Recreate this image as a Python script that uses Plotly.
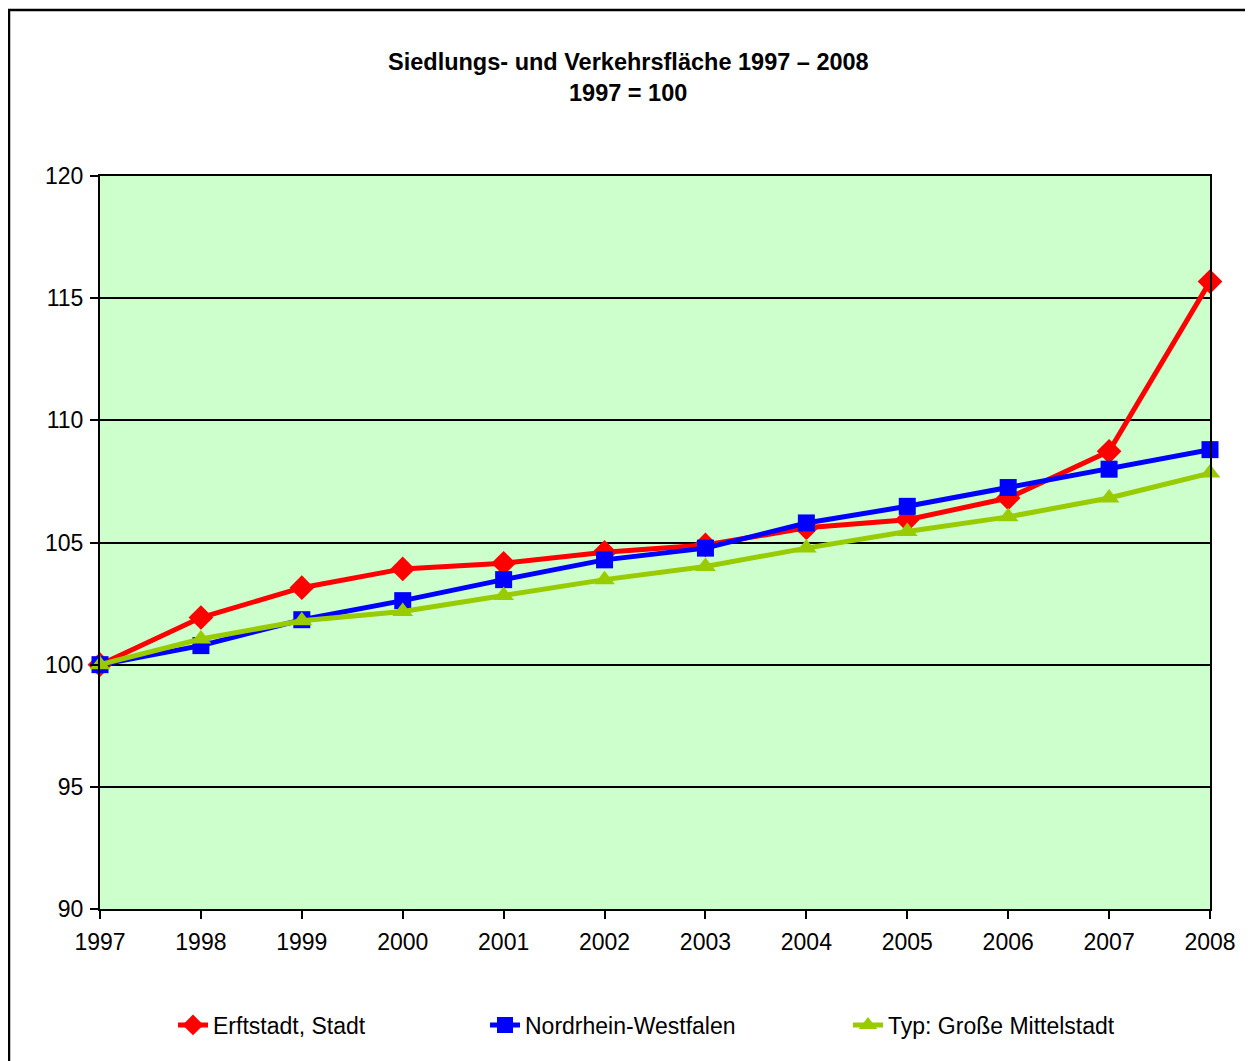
import plotly.graph_objects as go

years = [1997, 1998, 1999, 2000, 2001, 2002, 2003, 2004, 2005, 2006, 2007, 2008]
erftstadt = [100, 101.93, 103.15, 103.92, 104.15, 104.6, 104.9, 105.6, 105.93, 106.82, 108.73, 115.68]
nrw = [100, 100.78, 101.84, 102.62, 103.48, 104.29, 104.77, 105.8, 106.48, 107.25, 108.0, 108.8]
typ = [100, 101.05, 101.8, 102.18, 102.83, 103.48, 104.02, 104.77, 105.45, 106.05, 106.82, 107.84]
y_ticks = [90, 95, 100, 105, 110, 115, 120]

names = ["Erftstadt, Stadt", "Nordrhein-Westfalen", "Typ: Große Mittelstadt"]
colors = ["#FF0000", "#0000FF", "#99CC00"]
symbols = ["diamond", "square", "triangle-up"]
msizes = [19, 17, 18]
series = [erftstadt, nrw, typ]
legends = ["legend", "legend2", "legend3"]

OFF = 8  # page body margin
W, H = 1253 - OFF, 1061 - OFF
L, R, T, B = 100, 1210, 176, 909  # page coords of plot area
FONT = "Arial, Liberation Sans, sans-serif"
FS = 23

fig = go.Figure()
for name, col, sym, ms, vals, lg in zip(names, colors, symbols, msizes, series, legends):
    fig.add_trace(go.Scatter(
        x=years, y=vals, name=name, mode="lines+markers",
        line=dict(color=col, width=5),
        marker=dict(symbol=sym, size=ms, color=col, line=dict(width=0)),
        cliponaxis=False, legend=lg,
    ))

pw = R - L
ph = B - T
def px(x):
    return (x - L) / pw
def py(y):
    return (B - y) / ph

leg_common = dict(orientation="h", yanchor="middle", xanchor="left",
                  font=dict(family=FONT, size=FS, color="black"),
                  bgcolor="rgba(0,0,0,0)", itemwidth=30)
fig.update_layout(
    width=W, height=H,
    margin=dict(l=L - OFF, r=(W + OFF) - R, t=T - OFF, b=(H + OFF) - B, pad=0),
    paper_bgcolor="white", plot_bgcolor="#CCFFCC",
    font=dict(family=FONT, size=FS, color="black"),
    showlegend=True,
    legend=dict(x=px(173), y=py(1025), **leg_common),
    legend2=dict(x=px(485), y=py(1025), **leg_common),
    legend3=dict(x=px(848), y=py(1025), **leg_common),
    xaxis=dict(range=[1997, 2008], tickvals=years, ticktext=[str(y) for y in years],
               ticks="outside", ticklen=8, tickwidth=2, tickcolor="black",
               showline=True, linecolor="black", linewidth=2, mirror=True,
               showgrid=False, zeroline=False, tickfont=dict(size=FS),
               ticklabelstandoff=3),
    yaxis=dict(range=[90, 120], tickvals=y_ticks,
               ticks="outside", ticklen=8, tickwidth=2, tickcolor="black",
               showline=True, linecolor="black", linewidth=2, mirror=True,
               showgrid=True, gridcolor="black", gridwidth=2,
               zeroline=False, tickfont=dict(size=FS), ticklabelstandoff=2),
    annotations=[
        dict(text="<b>Siedlungs- und Verkehrsfläche 1997 – 2008</b>", xref="paper", yref="paper",
             x=px(628), y=py(62), xanchor="center", yanchor="middle", showarrow=False,
             font=dict(family=FONT, size=23.5, color="black")),
        dict(text="<b>1997 = 100</b>", xref="paper", yref="paper",
             x=px(628), y=py(93), xanchor="center", yanchor="middle", showarrow=False,
             font=dict(family=FONT, size=23.5, color="black")),
    ],
    shapes=[dict(type="rect", xref="paper", yref="paper",
                 x0=px(9), x1=px(1251), y0=py(1080), y1=py(10),
                 line=dict(color="black", width=2.5), fillcolor="rgba(0,0,0,0)", layer="above")],
)

fig.write_html("out.html")
